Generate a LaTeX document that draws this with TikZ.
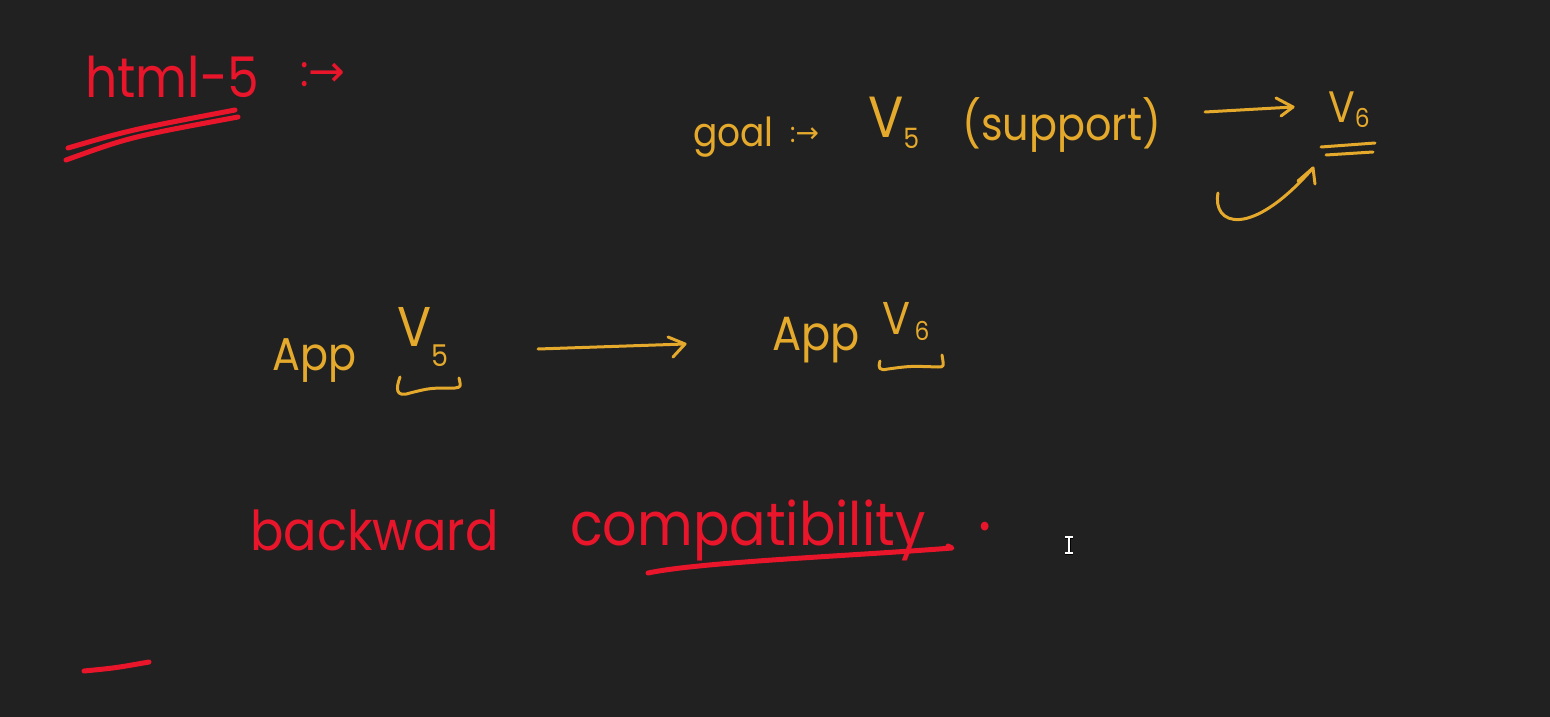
\documentclass[tikz,border=0pt]{standalone}
\usepackage{fontspec}
\newfontfamily\hand[FakeStretch=0.9]{Poppins}
\newfontfamily\arrowfont{DejaVu Sans}
\definecolor{bg}{HTML}{212121}
\definecolor{inkred}{HTML}{E8152B}
\definecolor{inkyel}{HTML}{E5AA2C}
\newcommand{\subsz}[3]{{\fontsize{#1}{#1}\selectfont\raisebox{#2}{#3}}}
\begin{document}
\begin{tikzpicture}[x=1pt,y=-1pt,
  redtxt/.style={text=inkred, inner sep=0pt, anchor=base west},
  yeltxt/.style={text=inkyel, inner sep=0pt, anchor=base west},
  redink/.style={draw=inkred, line width=5pt, line cap=round, line join=round},
  yelink/.style={draw=inkyel, line width=3pt, line cap=round, line join=round},
  fs/.style={font=\hand\fontsize{#1}{#1}\selectfont}]
\fill[bg] (0,0) rectangle (1550,717);
\useasboundingbox (0,0) rectangle (1550,717);

% ---- html-5 heading
\node[redtxt, fs=56] (html) at (85,97) {html-5};
\node[redtxt, fs=44] (htmlarr) at (300,86) {:{\arrowfont →}};
\coordinate (u1a) at (68,148); \coordinate (u1b) at (235,110);
\coordinate (u2a) at (66,160); \coordinate (u2b) at (238,117);
\draw[redink] (u1a) .. controls (130,130) .. (u1b);
\draw[redink] (u2a) .. controls (130,137) .. (u2b);

% ---- goal line
\node[yeltxt, fs=40] (goal) at (693,146) {goal};
\node[yeltxt, fs=28] (goalarr) at (790,142) {:{\arrowfont →}};
\node[yeltxt, fs=58] (v5a) at (868,137) {V\subsz{28}{-11pt}{5}};
\node[yeltxt, fs=46] (support) at (962,140) {(support)};
\node[yeltxt, fs=44] (v6a) at (1328,122) {V\subsz{26}{-5pt}{6}};
\coordinate (ga1) at (1205,112); \coordinate (ga2) at (1293,107);
\draw[yelink] (ga1) -- (ga2);
\draw[yelink] (1276,98) -- (ga2) -- (1281,116);
\draw[yelink] (1321,147) -- (1375,143);
\draw[yelink] (1326,155) -- (1373,152);
\coordinate (ca1) at (1218,193); \coordinate (ca2) at (1313,168);
\draw[yelink] (ca1) .. controls (1212,225) and (1250,240) .. (ca2);
\draw[yelink] (1298,181) -- (ca2) -- (1315,184);

% ---- App V5 -> App V6
\node[yeltxt, fs=46] (app1) at (272,370) {App};
\node[yeltxt, fs=56] (v5b) at (397,346) {V\subsz{30}{-20pt}{5}};
\draw[yelink] (400,377) .. controls (396,388) and (395,398) .. (410,393)
  .. controls (430,388) .. (455,388) .. controls (461,387) .. (459,378);
\coordinate (m1) at (538,349); \coordinate (m2) at (685,344);
\draw[yelink] (m1) -- (m2);
\draw[yelink] (668,337) -- (m2) -- (673,357);
\node[yeltxt, fs=48] (app2) at (772,350) {App};
\node[yeltxt, fs=46] (v6b) at (882,334) {V\subsz{26}{-6pt}{\,6}};
\draw[yelink] (880,361) .. controls (878,368) and (879,371) .. (888,369)
  .. controls (910,366) .. (938,367) .. controls (944,367) .. (942,355);

% ---- backward compatibility
\node[redtxt, fs=55] (back) at (250,550) {backward};
\node[redtxt, fs=60] (compat) at (570,545) {compatibility};
\node[redtxt, fs=70] (dot) at (978,530) {.};
\coordinate (cu1) at (648,573); \coordinate (cu2) at (952,548);
\draw[redink] (cu1) .. controls (700,562) and (850,556) .. (cu2) -- (948,546);

% ---- stray dash
\coordinate (d1) at (84,671); \coordinate (d2) at (149,662);
\draw[redink] (d1) .. controls (115,668) .. (d2);

% ---- text cursor
\draw[black, line width=3pt] (1065,537) -- (1073,537) (1069,537) -- (1069,553) (1065,553) -- (1073,553);
\draw[white, line width=1.3pt] (1065,537) -- (1073,537) (1069,537) -- (1069,553) (1065,553) -- (1073,553);
\end{tikzpicture}
\end{document}
